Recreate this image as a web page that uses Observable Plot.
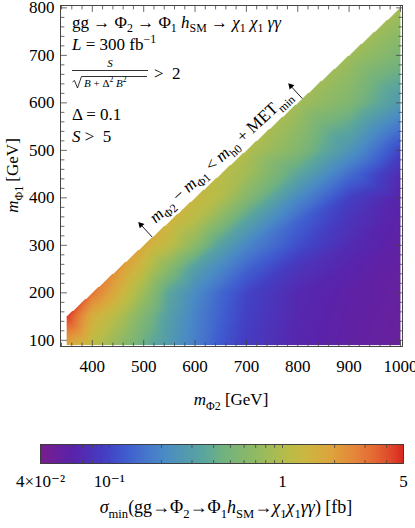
<!DOCTYPE html>
<html><head><meta charset="utf-8">
<script src="https://cdn.jsdelivr.net/npm/d3@7"></script>
<script src="https://cdn.jsdelivr.net/npm/@observablehq/plot@0.6"></script>
<style>
body{margin:0;background:#fff;}
#chart svg{display:block;overflow:visible}
</style></head><body><div id="chart"></div>
<script>
// ---------- data ----------
const mPhi2 = [350, 400, 450, 500, 550, 600, 650, 700, 800, 900, 1000];
const mPhi1 = [90, 150, 200, 250, 300, 350, 400, 450, 500, 600, 700, 800];
// sigma_min [fb]; one row per mPhi1 value, columns follow mPhi2; null = excluded region
const sigmaRows = [
  [1.85, 1.15, 0.70, 0.42, 0.27, 0.18, 0.12, 0.090, 0.064, 0.055, 0.050],
  [4.6, 1.6, 1.0, 0.55, 0.30, 0.19, 0.13, 0.095, 0.066, 0.056, 0.051],
  [null, 3.0, 1.6, 0.80, 0.35, 0.21, 0.14, 0.10, 0.068, 0.057, 0.052],
  [null, null, 2.2, 1.2, 0.60, 0.30, 0.20, 0.135, 0.080, 0.062, 0.053],
  [null, null, null, 1.7, 1.15, 0.65, 0.32, 0.20, 0.11, 0.070, 0.055],
  [null, null, null, null, 1.45, 1.03, 0.60, 0.33, 0.135, 0.080, 0.058],
  [null, null, null, null, null, 1.3, 1.0, 0.60, 0.21, 0.095, 0.062],
  [null, null, null, null, null, null, 1.1, 0.85, 0.36, 0.15, 0.070],
  [null, null, null, null, null, null, null, 1.0, 0.58, 0.25, 0.10],
  [null, null, null, null, null, null, null, null, 0.85, 0.56, 0.27],
  [null, null, null, null, null, null, null, null, null, 0.82, 0.53],
  [null, null, null, null, null, null, null, null, null, null, 0.85]
];
const deltaMin = 200;              // mPhi2 - mPhi1 boundary (mh0 + MET_min)
const arrowAt = [517, 809];        // mPhi2 positions of the boundary arrows
const labelAt = 667;               // mPhi2 position of the boundary label centre
const xTicks = [400, 500, 600, 700, 800, 900, 1000];
const yTicks = [100, 200, 300, 400, 500, 600, 700, 800];
const cbDomain = [0.04, 5];
const cbLabelValues = [0.04, 0.1, 1, 5];
const cbLabels = ["4×10⁻²", "10⁻¹", "1", "5"];
const cbMinor = [0.05, 0.06, 0.07, 0.08, 0.09, 0.1, 0.2, 0.3, 0.4, 0.5, 0.6, 0.7, 0.8, 0.9, 1, 2, 3, 4];

// ---------- style ----------
const FONT = "'Liberation Serif','DejaVu Serif',serif";
const FS = 17;
const stopPos = [0, 0.085, 0.18, 0.235, 0.29, 0.345, 0.40, 0.455, 0.505, 0.59, 0.68, 0.735, 0.80, 0.862, 0.917, 0.972, 1];
const stopCol = ["#7a1e8c","#5a22aa","#4340c4","#3f5ccf","#4676cc","#4a8cc4","#539aae","#5ca69c","#72b27f","#90ba64","#b8bc48","#ccb640","#dda43c","#e4883a","#e46a33","#de422a","#d8261f"];
const ramp = (t) => {
  t = Math.max(0, Math.min(1, t));
  let i = 0;
  while (i < stopPos.length - 2 && t > stopPos[i + 1]) i++;
  const u = (t - stopPos[i]) / (stopPos[i + 1] - stopPos[i]);
  return d3.interpolateRgb(stopCol[i], stopCol[i + 1])(u);
};
const colorOpts = {type: "log", domain: cbDomain, interpolate: ramp};

// ---------- interpolation (barycentric in log space over the read grid) ----------
const pts = [], lv = [];
mPhi1.forEach((y, r) => mPhi2.forEach((x, c) => {
  const v = sigmaRows[r][c];
  if (v != null) { pts.push([x, y]); lv.push(Math.log10(v)); }
}));
const del = d3.Delaunay.from(pts);
const tris = [];
for (let i = 0; i < del.triangles.length; i += 3) {
  const a = del.triangles[i], b = del.triangles[i + 1], c = del.triangles[i + 2];
  const [x1, y1] = pts[a], [x2, y2] = pts[b], [x3, y3] = pts[c];
  const det = (y2 - y3) * (x1 - x3) + (x3 - x2) * (y1 - y3);
  if (Math.abs(det) < 1e-6) continue;
  tris.push({x1, y1, x2, y2, x3, y3, det, a, b, c,
    xmin: Math.min(x1, x2, x3), xmax: Math.max(x1, x2, x3),
    ymin: Math.min(y1, y2, y3), ymax: Math.max(y1, y2, y3)});
}
function sigmaAt(x, y) {
  for (const t of tris) {
    if (x < t.xmin - 1e-6 || x > t.xmax + 1e-6 || y < t.ymin - 1e-6 || y > t.ymax + 1e-6) continue;
    const l1 = ((t.y2 - t.y3) * (x - t.x3) + (t.x3 - t.x2) * (y - t.y3)) / t.det;
    const l2 = ((t.y3 - t.y1) * (x - t.x3) + (t.x1 - t.x3) * (y - t.y3)) / t.det;
    const l3 = 1 - l1 - l2;
    if (l1 >= -1e-9 && l2 >= -1e-9 && l3 >= -1e-9) return 10 ** (l1 * lv[t.a] + l2 * lv[t.b] + l3 * lv[t.c]);
  }
  return NaN;
}

// ---------- layout ----------
const W = 415, H = 412, ML = 60, MR = 13, MT = 5, MB = 66;
const xDom = [338, 1004], yDom = [87, 805];
const kx = (W - ML - MR) / (xDom[1] - xDom[0]);
const ky = (H - MT - MB) / (yDom[1] - yDom[0]);
const nrm = Math.hypot(kx, ky);
const arrowLen = 19;
const dm2 = arrowLen * (-ky / nrm) / kx, dm1 = arrowLen * (kx / nrm) / ky;
const angDeg = Math.atan2(ky, kx) * 180 / Math.PI;

const tickShape = {draw(ctx, l) { ctx.moveTo(0, 0); ctx.lineTo(0, -l); }};
const xMinor = d3.range(340, 1001, 20).filter(v => v % 100);
const yMinor = d3.range(100, 801, 20).filter(v => v % 100);
const tk = {stroke: "#444", strokeWidth: 0.8, shape: tickShape, anchor: "start"};
function frameTicks(xs, ys, len) {
  return [
    Plot.vector(xs, {...tk, x: d => d, frameAnchor: "bottom", rotate: 0, length: len}),
    Plot.vector(xs, {...tk, x: d => d, frameAnchor: "top", rotate: 180, length: len}),
    Plot.vector(ys, {...tk, y: d => d, frameAnchor: "left", rotate: 90, length: len}),
    Plot.vector(ys, {...tk, y: d => d, frameAnchor: "right", rotate: -90, length: len})
  ];
}

const main = Plot.plot({
  width: W, height: H, marginLeft: ML, marginRight: MR, marginTop: MT, marginBottom: MB,
  style: {fontFamily: FONT, fontSize: FS + "px", color: "black", background: "white"},
  x: {domain: xDom},
  y: {domain: yDom},
  color: colorOpts,
  marks: [
    Plot.raster({x1: d3.min(mPhi2), x2: d3.max(mPhi2), y1: d3.min(mPhi1), y2: d3.max(mPhi1),
      fill: (x, y) => (x - y < deltaMin - 1e-9 ? NaN : sigmaAt(x, y)), pixelSize: 1}),
    Plot.frame({stroke: "#333", strokeWidth: 0.9}),
    ...frameTicks(xTicks, yTicks, 6),
    ...frameTicks(xMinor, yMinor, 3.5),
    Plot.axisX({ticks: xTicks, tickSize: 0, tickPadding: 13, label: null, tickFormat: d => String(d)}),
    Plot.axisY({ticks: yTicks, tickSize: 0, tickPadding: 6, label: null, tickFormat: d => String(d)}),
    Plot.link(arrowAt, {x1: d => d, y1: d => d - deltaMin, x2: d => d + dm2, y2: d => d - deltaMin + dm1,
      stroke: "black", strokeWidth: 0.9}),
    Plot.dot(arrowAt, {x: d => d + dm2 * 0.9, y: d => d - deltaMin + dm1 * 0.9, symbol: "triangle",
      r: 2.4, fill: "black", stroke: null, rotate: -angDeg})
  ]
});

const cb = Plot.plot({
  width: W, height: 116, marginLeft: 40, marginRight: 12, marginTop: 32, marginBottom: 65,
  style: {fontFamily: FONT, fontSize: FS + "px", color: "black", background: "white"},
  x: {type: "log", domain: cbDomain},
  y: {domain: [0, 1], axis: null},
  color: colorOpts,
  marks: [
    Plot.raster({x1: cbDomain[0], x2: cbDomain[1], y1: 0, y2: 1, fill: (x) => x, pixelSize: 1}),
    Plot.frame({stroke: "#333", strokeWidth: 0.9}),
    Plot.vector(cbMinor, {...tk, x: d => d, frameAnchor: "bottom", rotate: 0, length: 3}),
    Plot.vector(cbMinor, {...tk, x: d => d, frameAnchor: "top", rotate: 180, length: 3}),
    Plot.axisX({ticks: cbLabelValues, tickSize: 0, tickPadding: 11, label: null,
      tickFormat: d => cbLabels[cbLabelValues.indexOf(d)]})
  ]
});

const root = document.getElementById("chart");
root.append(main, cb);

// ---------- rich text helpers ----------
function rich(parent, x, y, parts, size, opts = {}) {
  const t = parent.append("text").attr("x", x).attr("y", y)
    .attr("font-size", size).attr("font-family", FONT).attr("fill", "black")
    .attr("text-anchor", opts.anchor || "start")
    .style("white-space", "pre");
  if (opts.transform) t.attr("transform", opts.transform);
  let shift = 0;
  for (const p of parts) {
    const part = typeof p === "string" ? {t: p} : p;
    const target = part.sub ? size * 0.28 : part.sup ? -size * 0.38 : 0;
    const ts = t.append("tspan").text(part.t);
    if (target !== shift) ts.attr("dy", target - shift);
    shift = target;
    if (part.sub || part.sup) ts.attr("font-size", size * 0.7);
    if (part.i) ts.attr("font-style", "italic");
  }
  return t;
}
const I = (t) => ({t, i: true});
const SUB = (t) => ({t, sub: true});
const SUP = (t) => ({t, sup: true});

const svg = d3.select(main);
const sx = main.scale("x"), sy = main.scale("y");

// annotation block
const tx = 72;
rich(svg, tx, 27.5, ["gg → Φ", SUB("2"), " → Φ", SUB("1"), " ", I("h"), SUB("SM"), " → ", I("χ"), SUB("1"), " ", I("χ"), SUB("1"), " ", I("γγ")], FS);
rich(svg, tx, 49.5, [I("L"), " = 300 fb", SUP("−1")], FS);
rich(svg, 110, 67, [I("S")], 11, {anchor: "middle"});
svg.append("line").attr("x1", 72).attr("x2", 148).attr("y1", 70.5).attr("y2", 70.5).attr("stroke", "black").attr("stroke-width", 0.8);
svg.append("path").attr("d", "M72.5,82 L74.5,80.5 L77.5,88 L81.5,76.5 L147,76.5").attr("fill", "none").attr("stroke", "black").attr("stroke-width", 0.8);
rich(svg, 84, 86.5, [I("B"), " + Δ", SUP("2"), " ", I("B"), SUP("2")], 11);
rich(svg, 154, 79, [">  2"], FS);
rich(svg, tx, 120, ["Δ = 0.1"], FS);
rich(svg, tx, 141.5, [I("S"), " >  5"], FS);

// boundary label
{
  const px = sx.apply(labelAt), py = sy.apply(labelAt - deltaMin);
  const ang = -angDeg;
  const nx = -ky / nrm, ny = -kx / nrm;
  const off = 7;
  rich(svg, 0, 0, [I("m"), SUB("Φ2"), " − ", I("m"), SUB("Φ1"), " < ", I("m"), SUB("h0"), " + MET", SUB("min")], 17,
    {anchor: "middle", transform: `translate(${px + nx * off},${py + ny * off}) rotate(${ang})`});
}

// axis titles
rich(svg, (ML + W - MR) / 2, 405, [I("m"), SUB("Φ2"), " [GeV]"], FS, {anchor: "middle"});
rich(svg, 0, 0, [I("m"), SUB("Φ1"), " [GeV]"], FS, {anchor: "middle", transform: `translate(18,${(MT + H - MB) / 2}) rotate(-90)`});

// colour bar caption
rich(d3.select(cb), 226, 101, [I("σ"), SUB("min"), "(gg→Φ", SUB("2"), "→Φ", SUB("1"), I("h"), SUB("SM"), "→", I("χ"), SUB("1"), I("χ"), SUB("1"), I("γγ"), ") [fb]"], 18, {anchor: "middle"});
</script>
</body></html>
